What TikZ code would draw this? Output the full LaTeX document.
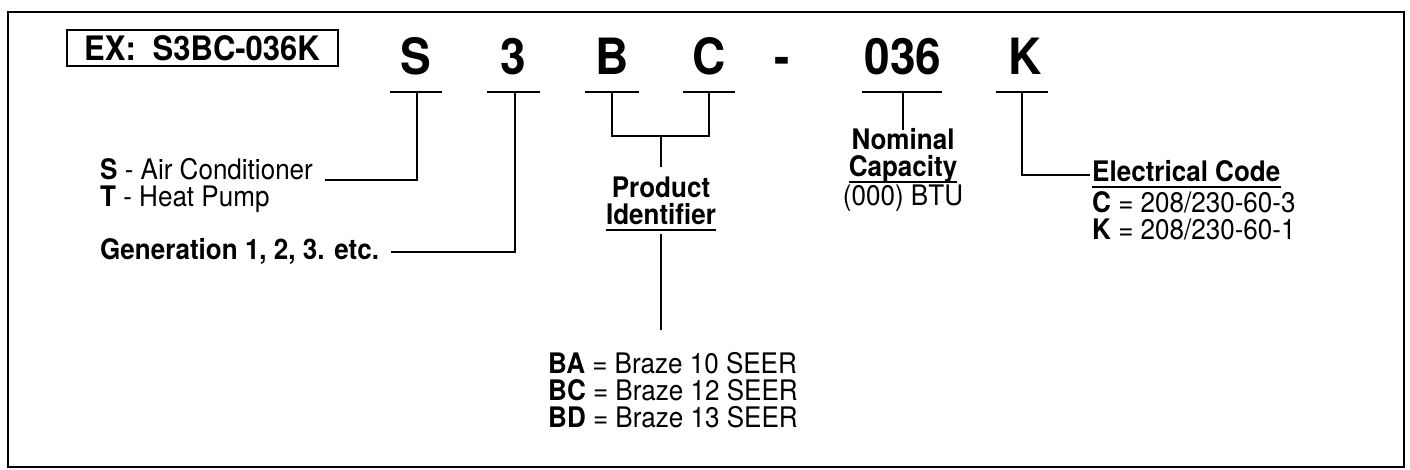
\documentclass[tikz,border=0pt]{standalone}
\usepackage{fontspec}
\setmainfont{TeX Gyre Heros}[FakeStretch=0.92]
\usetikzlibrary{calc}
\tikzset{
  big/.style={font=\fontsize{50}{50}\selectfont\bfseries, inner sep=0pt, anchor=base},
  lbl/.style={font=\fontsize{28.3}{28}\selectfont, inner sep=0pt, anchor=base west},
  blbl/.style={font=\fontsize{28.3}{28}\selectfont\bfseries, inner sep=0pt, anchor=base},
  conn/.style={line width=1.8pt},
  uline/.style={line width=1.5pt},
  frame/.style={line width=2pt},
}
\begin{document}
\begin{tikzpicture}[x=1pt,y=-1pt]
\useasboundingbox (0,0) rectangle (1410,470);
\draw[frame] (8,12) rectangle (1404,467);
\node[draw, line width=2pt, minimum width=271pt, minimum height=36pt, inner sep=0pt,
      font=\fontsize{33.7}{33}\selectfont\bfseries] (ex) at (202,48) {EX:\hspace{0.5em}S3BC-036K};

% code characters
\node[big] (cS) at (416,75) {S};
\node[big] (c3) at (513,75) {3};
\node[big] (cB) at (612,75) {B};
\node[big] (cC) at (709,75) {C};
\node[big] (cD) at (782,75) {-};
\node[big] (c036) at (903,75) {036};
\node[big] (cK) at (1025,75) {K};

% underlines
\draw[conn] (390,92) -- (442,92);
\draw[conn] (487,92) -- (540,92);
\draw[conn] (585,92) -- (639,92);
\draw[conn] (683,92) -- (735,92);
\draw[conn] (862,92) -- (942,92);
\draw[conn] (996,92) -- (1048,92);

\coordinate (tS) at (417,92);
\coordinate (t3) at (515,92);
\coordinate (tB) at (612,92);
\coordinate (tC) at (709,92);
\coordinate (t036) at (903,92);
\coordinate (tK) at (1022,92);

% S / T
\node[lbl] (sac) at (100,180) {\textbf{S} - Air Conditioner};
\node[lbl] (thp) at (100,207) {\textbf{T} - Heat Pump};
\coordinate (sacEnd) at (325,180);
\draw[conn] (tS) |- (sacEnd);

% Generation
\node[lbl, font=\fontsize{28.3}{28}\selectfont\bfseries] (gen) at (100,260) {Generation 1, 2, 3. etc.};
\coordinate (genEnd) at ($(gen.east)+(12,0)$);
\draw[conn] (t3) |- (genEnd);

% Product identifier
\coordinate (bcJoin) at (661,136);
\draw[conn] (tB) |- (bcJoin) -| (tC);
\node[blbl] (prod) at (661,198) {Product};
\node[blbl] (ident) at (661,225) {Identifier};
\draw[conn] (bcJoin) -- ($(prod.north)+(0,-10)$);
\draw[uline] ($(ident.base west)+(0,5)$) -- ($(ident.base east)+(0,5)$);
\coordinate (brz) at (661,330);
\draw[conn] ($(ident.base)+(0,9)$) -- (brz);
\node[lbl] (ba) at (548,373) {\textbf{BA} = Braze 10 SEER};
\node[lbl] (bc) at (548,400) {\textbf{BC} = Braze 12 SEER};
\node[lbl] (bd) at (548,427) {\textbf{BD} = Braze 13 SEER};

% Nominal capacity
\node[blbl] (nom) at (903,150) {Nominal};
\node[blbl] (cap) at (903,177) {Capacity};
\node[blbl, font=\fontsize{28.3}{28}\selectfont] (btu) at (903,206) {(000) BTU};
\draw[conn] (t036) -- ($(nom.north)+(0,1)$);
\draw[uline] ($(cap.base west)+(0,5)$) -- ($(cap.base east)+(0,5)$);

% Electrical code
\node[lbl, font=\fontsize{28.3}{28}\selectfont\bfseries] (ec) at (1092,182) {Electrical Code};
\coordinate (ecIn) at (1090,175);
\draw[conn] (tK) |- (ecIn);
\draw[uline] ($(ec.base west)+(0,5)$) -- ($(ec.base east)+(0,5)$);
\node[lbl] (c1) at (1092,213) {\textbf{C} = 208/230-60-3};
\node[lbl] (k1) at (1092,240) {\textbf{K} = 208/230-60-1};
\end{tikzpicture}
\end{document}
